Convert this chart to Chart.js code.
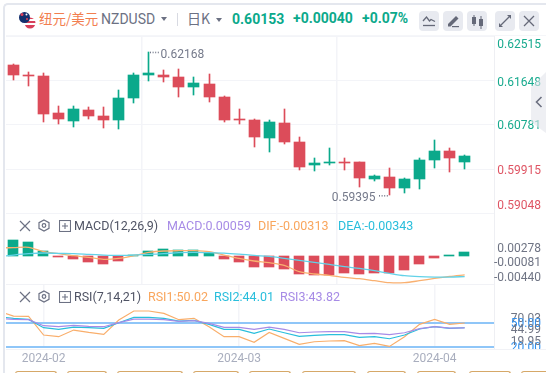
<!DOCTYPE html>
<html><head><meta charset="utf-8">
<script src="https://cdn.jsdelivr.net/npm/chart.js@4"></script>
<style>
html,body{margin:0;padding:0;background:#fff;}
#s{position:relative;width:546px;height:373px;overflow:hidden;background:#fff;font-family:Roboto,"Noto Sans CJK SC",sans-serif;}
#s canvas{position:absolute;left:0;}
.t{position:absolute;white-space:nowrap;line-height:16px;height:16px;}
.b{position:absolute;top:11px;width:20px;height:20px;border-radius:4px;background:#E8EAF0;}
.b svg,.i{position:absolute;}
.tab{position:absolute;top:371px;height:6px;border:1px solid #D6A868;border-bottom:0;border-radius:3px 3px 0 0;box-sizing:border-box;}
</style></head><body><div id="s">
<div style="position:absolute;left:3px;top:3px;width:560px;height:380px;border:2px solid #E4E7EE;border-right:0;border-bottom:0;border-top-left-radius:5px;box-sizing:border-box"></div>
<div style="position:absolute;left:6px;top:35px;width:540px;height:1px;background:#F5F6F9"></div>
<canvas id="c1" width="546" height="178" style="top:36px"></canvas>
<canvas id="c2" width="546" height="71" style="top:214px"></canvas>
<canvas id="c3" width="546" height="88" style="top:285px"></canvas>
<div style="position:absolute;left:6px;top:349px;width:540px;height:1px;background:#F1F2F6"></div>
<div style="position:absolute;left:500px;top:350px;width:46px;height:20px;background:#fff"></div>
<div style="position:absolute;left:531px;top:72px;width:15px;height:61px;background:rgba(226,228,235,.6);clip-path:polygon(0 15px,15px 0,15px 61px,0 50px)"></div>
<svg class="i" style="left:535px;top:96px" width="8" height="12"><path d="M6.5 1 L1.5 6 L6.5 11" fill="none" stroke="#6c7080" stroke-width="1.6"/></svg>

<svg class="i" style="left:18px;top:11px" width="19" height="18">
 <circle cx="12" cy="12" r="5.5" fill="#fff"/>
 <clipPath id="u"><circle cx="12" cy="12" r="5.5"/></clipPath>
 <g clip-path="url(#u)"><rect x="6" y="6" width="12" height="2" fill="#D8405A"/><rect x="6" y="10" width="12" height="2" fill="#D8405A"/><rect x="6" y="14" width="12" height="2" fill="#D8405A"/><rect x="6" y="16" width="12" height="2" fill="#D8405A"/></g>
 <circle cx="6.5" cy="6.5" r="5.5" fill="#14306E"/>
 <circle cx="4" cy="3.5" r="1.5" fill="#E0405A"/><circle cx="9" cy="8" r="1" fill="#E0405A"/><circle cx="8.5" cy="3.5" r="1" fill="#fff"/>
</svg>
<div class="t" style="left:39px;top:10px;font-size:13.5px;color:#F27E4F;font-family:'Noto Sans CJK SC'">纽元/美元</div>
<div class="t" style="left:101px;top:11px;font-size:14px;color:#6C7183">NZDUSD</div>
<svg class="i" style="left:161px;top:17px" width="6" height="4"><path d="M0 0H6L3 4Z" fill="#6C7183"/></svg>
<div style="position:absolute;left:177px;top:13px;width:1px;height:13px;background:#D8DAE2"></div>
<div class="t" style="left:187px;top:10px;font-size:14px;color:#6C7183;font-family:'Noto Sans CJK SC'">日K</div>
<svg class="i" style="left:216px;top:18px" width="6" height="4"><path d="M0 0H6L3 4Z" fill="#6C7183"/></svg>
<div class="t" style="left:232px;top:11px;font-size:14px;font-weight:700;color:#0BA98B">0.60153</div>
<div class="t" style="left:293px;top:10px;font-size:14px;font-weight:700;color:#0BA98B">+0.00040</div>
<div class="t" style="left:362px;top:10px;font-size:14px;font-weight:700;color:#0BA98B">+0.07%</div>
<div class="b" style="left:419px"><svg width="20" height="20" fill="none" stroke="#656978" stroke-width="1.3"><path d="M4 10L7.5 6L10.5 10L12 8.5L16 10.5"/><path d="M4 14.5H16"/></svg></div>
<div class="b" style="left:443px"><svg width="20" height="20"><path d="M5 13L13 5L15.5 7.5L7.5 15.5H5Z" fill="#656978"/><rect x="9" y="15" width="7" height="1.2" fill="#656978"/></svg></div>
<div class="b" style="left:467px"><svg width="20" height="20" fill="#656978"><rect x="5" y="6" width="4" height="7"/><rect x="6.5" y="4" width="1" height="11"/><rect x="12" y="8" width="4" height="7"/><rect x="13.5" y="5" width="1" height="13"/></svg></div>
<div class="b" style="left:495px"><svg width="20" height="20" fill="#656978"><path d="M12 4H16V8ZM8 16H4V12Z"/><path d="M14 6L6 14" stroke="#656978" stroke-width="1.2"/></svg></div>
<div class="b" style="left:519px"><svg width="20" height="20" stroke="#656978" stroke-width="1.3"><path d="M5 5L15 15M15 5L5 15"/></svg></div>

<svg class="i" style="left:19px;top:220px" width="12" height="12" stroke="#6C7183" stroke-width="1.2"><path d="M1 1L11 11M11 1L1 11"/></svg>
<svg class="i" style="left:38px;top:219px" width="12" height="13" fill="none" stroke="#6C7183" stroke-width="1.2"><path d="M6 1L11 3.7V9.3L6 12L1 9.3V3.7Z"/><circle cx="6" cy="6.5" r="1.8"/></svg>
<svg class="i" style="left:59px;top:220px" width="12" height="12" fill="none" stroke="#6C7183" stroke-width="1.1"><rect x=".5" y=".5" width="11" height="11"/><path d="M3 6H9M6 3V9"/></svg>
<div class="t" style="left:74px;top:218px;font-size:12.5px;color:#4F5364">MACD(12,26,9)</div>
<div class="t" style="left:167px;top:218px;font-size:12.5px;color:#A78BE6">MACD:0.00059</div>
<div class="t" style="left:258px;top:218px;font-size:12.5px;color:#F9A65D">DIF:-0.00313</div>
<div class="t" style="left:338px;top:218px;font-size:12.5px;color:#29BEDC">DEA:-0.00343</div>

<svg class="i" style="left:19px;top:291px" width="12" height="12" stroke="#6C7183" stroke-width="1.2"><path d="M1 1L11 11M11 1L1 11"/></svg>
<svg class="i" style="left:38px;top:290px" width="12" height="13" fill="none" stroke="#6C7183" stroke-width="1.2"><path d="M6 1L11 3.7V9.3L6 12L1 9.3V3.7Z"/><circle cx="6" cy="6.5" r="1.8"/></svg>
<svg class="i" style="left:59px;top:291px" width="12" height="12" fill="none" stroke="#6C7183" stroke-width="1.1"><rect x=".5" y=".5" width="11" height="11"/><path d="M3 6H9M6 3V9"/></svg>
<div class="t" style="left:74px;top:289px;font-size:12.5px;color:#4F5364">RSI(7,14,21)</div>
<div class="t" style="left:148px;top:289px;font-size:12.5px;color:#F9A65D">RSI1:50.02</div>
<div class="t" style="left:214px;top:289px;font-size:12.5px;color:#29BEDC">RSI2:44.01</div>
<div class="t" style="left:280px;top:289px;font-size:12.5px;color:#A78BE6">RSI3:43.82</div>

<div class="tab" style="left:15px;width:42px"></div><div class="tab" style="left:67px;width:40px"></div><div class="tab" style="left:117px;width:66px"></div><div class="tab" style="left:193px;width:46px"></div><div class="tab" style="left:249px;width:42px"></div><div class="tab" style="left:302px;width:54px"></div><div class="tab" style="left:367px;width:39px"></div><div class="tab" style="left:417px;width:39px"></div><div class="tab" style="left:469px;width:42px"></div><div class="tab" style="left:521px;width:40px"></div>
</div>
<script>
const opens =[.61953,.61751,.61738,.61013,.60856,.61072,.60954,.60876,.61307,.61757,.61757,.61718,.61522,.61581,.61326,.60895,.60876,.60530,.60817,.60445,.59994,.60033,.60053,.60053,.59720,.59759,.59544,.59720,.60092,.60268,.60053];
const closes=[.61757,.61738,.60993,.60895,.61091,.60954,.60876,.61307,.61757,.61796,.61718,.61522,.61600,.61326,.60876,.60882,.60549,.60836,.60451,.59961,.60033,.60053,.60033,.59746,.59779,.59544,.59720,.60092,.60268,.60131,.60170];
const highs =[.61973,.61816,.61790,.61150,.61150,.61130,.61130,.61463,.61796,.62214,.61855,.61875,.61718,.61777,.61346,.61091,.60895,.60876,.61091,.60549,.60131,.60327,.60125,.60053,.59798,.59935,.59739,.60131,.60484,.60327,.60190];
const lows  =[.61659,.61542,.60836,.60797,.60745,.60895,.60719,.60699,.61209,.61640,.61620,.61326,.61365,.61228,.60836,.60797,.60353,.60255,.60405,.59896,.59877,.59988,.59896,.59563,.59681,.59406,.59452,.59524,.59935,.59857,.59916];
const macdHist=[.00257,.00225,.00077,-.00021,-.00054,-.00103,-.00136,-.00087,.00011,.00077,.0011,.00093,.00087,.00049,-.00054,-.00103,-.00185,-.00185,-.00218,-.003,-.00316,-.00316,-.00284,-.003,-.00284,-.00284,-.00234,-.00136,-.00033,.00008,.00059];
// line series start one session before the first visible candle
const dif=[.00131,.00131,.00137,.00066,.00033,0,-.00027,-.0006,-.00044,0,.00055,.00077,.00082,.00082,.00066,.00011,-.00044,-.00087,-.00115,-.00158,-.00262,-.003,-.00322,-.00355,-.00377,-.0041,-.00443,-.00443,-.0041,-.00372,-.00339,-.00313];
const dea=[-.00016,.00011,.00033,.00044,.00038,.00033,.00022,.00011,.00005,.00011,.00022,.00033,.00049,.00055,.00049,.00044,.00027,.00005,-.00011,-.00044,-.00077,-.00109,-.00142,-.0018,-.00208,-.00246,-.0029,-.00328,-.00344,-.0035,-.0035,-.00343];
const rsi1=[65.2,58.8,58.4,34.8,32.7,41.1,38.1,35.6,53.8,65.2,65.2,62.2,54.2,55.9,45.3,32.7,32.7,25.5,38.1,30.6,23.0,26.3,27.2,27.6,21.3,24.2,20.4,32.7,48.3,54.6,48.3,50.02];
const rsi2=[58.0,55.9,54.6,44.1,41.9,44.9,44.1,43.2,50.4,57.1,57.1,55.9,52.5,53.3,48.3,41.9,41.9,36.9,42.4,37.7,33.1,34.3,35.2,35.2,31.8,32.7,30.1,34.8,42.4,45.3,43.2,44.01];
const rsi3=[55.9,54.6,54.2,46.6,45.3,47.0,45.7,45.3,50.4,55.0,55.0,54.2,52.1,52.9,49.5,44.5,44.5,41.9,44.9,41.9,37.7,38.6,39.0,39.0,36.5,36.9,35.2,37.7,42.8,45.3,43.6,43.82];
const priceTicks=[.62515,.61648,.60781,.59915,.59048];
const macdTicks=[.00278,-.00081,-.0044];
const rsiTicks=[70.03,50,44.99,20,19.95];
const xTickIndex=[2,15,28];
const xTickLabels=['2024-02','2024-03','2024-04'];
const maxMark={index:9,value:.62214,text:'0.62168'};
const minMark={index:25,value:.59406,text:'0.59395'};

const GREEN='#0BA98B',RED='#DC4C5A',GRID='#F3F4F8';
const font={family:'Roboto',size:12};
const idx=a=>a.map((_,i)=>i);
const noPad=s=>{s.paddingLeft=s.paddingRight=s.paddingTop=s.paddingBottom=0;};
function xScale(show,border){return {type:'linear',min:-.5,max:31.95,offset:false,stacked:true,
  afterBuildTicks:s=>{s.ticks=xTickIndex.map(v=>({value:v}));},
  afterFit:s=>{s.height=show?25.5:0;noPad(s);},
  grid:{color:GRID,lineWidth:1.5,drawTicks:false},
  border:{display:!!border,color:'#F1F2F6'},
  ticks:{display:show,autoSkip:false,maxRotation:0,padding:4,color:'#A9AEBE',font:font,
    callback:v=>xTickLabels[xTickIndex.indexOf(v)]}};}
function yScale(min,max,ticks,digits,color,grid,lw){return {position:'right',min,max,
  afterBuildTicks:s=>{s.ticks=ticks.map(v=>({value:v}));},
  afterFit:s=>{s.width=52;noPad(s);},
  grid:{color:grid,lineWidth:lw||1,drawTicks:false},
  border:{display:true,color:'#EEEFF3'},
  ticks:{autoSkip:false,padding:3,font:font,color:color,callback:v=>v.toFixed(digits)}};}

const axisLabels={id:'axisLabels',beforeDraw(c,a,o){
  const s=c.scales.y,items=s.getLabelItems(c.chartArea);
  items.forEach((it,i)=>{const p=it.options||it;
    p.textAlign='right';p.translation[0]=541;p.translation[1]+=o.shift[i]||0;});
}};
const snap={id:'snap',afterDatasetsUpdate(c,a,o){
  c.data.datasets.forEach((d,k)=>{
    if(d.type==='line')return;
    c.getDatasetMeta(k).data.forEach(e=>{
      e.x=Math.floor(e.x)+(d.barThickness%2?.5:0);
      let y=Math.round(e.y),b=Math.round(e.base);
      if(y===b)b=y+1;
      e.y=y;e.base=b;
    });
  });
}};
const marks={id:'marks',afterDatasetsDraw(c){
  const g=c.ctx,x=c.scales.x,y=c.scales.y;
  g.save();g.font='12px Roboto';g.fillStyle='#757A8B';g.textBaseline='middle';
  let px=Math.floor(x.getPixelForValue(maxMark.index))+.5,py=y.getPixelForValue(maxMark.value);
  g.textAlign='left';g.fillText(maxMark.text,px+12,py+3);
  for(let k=0;k<4;k++)g.fillRect(px+1.5+k*2.6,py,1,1.6);
  px=Math.floor(x.getPixelForValue(minMark.index))+.5;py=y.getPixelForValue(minMark.value);
  g.textAlign='right';g.fillText(minMark.text,px-14,py+2.5);
  for(let k=0;k<4;k++)g.fillRect(px-10.5+k*2.6,py,1,1.6);
  g.restore();
}};
function base(pad,shift,extra){return Object.assign({responsive:false,animation:false,events:[],
  devicePixelRatio:1,
  layout:{autoPadding:false,padding:Object.assign({left:6,top:0,right:0,bottom:0},pad)},
  plugins:{legend:{display:false},tooltip:{enabled:false},axisLabels:{shift}}},extra);}
const lineDs=(a,color,lw,tension)=>({type:'line',data:a.map((v,i)=>({x:i-1,y:v})),borderColor:color,borderWidth:lw,pointRadius:0,tension:tension||0,order:0});

new Chart('c1',{type:'bar',plugins:[axisLabels,snap,marks],
 data:{datasets:[
  {data:idx(opens).map(i=>({x:i,y:[lows[i],highs[i]]})),barThickness:1,
   backgroundColor:opens.map((o,i)=>closes[i]>=o?GREEN:RED),order:2},
  {data:idx(opens).map(i=>({x:i,y:[Math.min(opens[i],closes[i]),Math.max(opens[i],closes[i])]})),barThickness:11,
   backgroundColor:opens.map((o,i)=>closes[i]>=o?GREEN:RED),order:1}
 ]},
 options:base({},[8.5,2,1.5,2,-7.5],{scales:{x:xScale(false),
  y:yScale(.59034,.62521,priceTicks,5,ctx=>ctx.tick.value>.6?'#18AA8E':'#DF5564',GRID)}})});

new Chart('c2',{type:'bar',plugins:[axisLabels,snap],
 data:{datasets:[
  {data:macdHist.map((v,i)=>({x:i,y:v})),barThickness:10,
   backgroundColor:macdHist.map(v=>v>=0?GREEN:RED),order:3},
  lineDs(dea,'#62D2E8',1.3,.3),
  lineDs(dif,'#F9B070',1.3,.3)
 ]},
 options:base({bottom:1},[9.8,2.5,-4.5],{scales:{x:xScale(false,true),
  y:yScale(-.00464,.00684,macdTicks,5,'#6F7484','transparent')}})});

new Chart('c3',{type:'line',plugins:[axisLabels],
 data:{datasets:[lineDs(rsi3,'#A78BE6',1.2),lineDs(rsi2,'#29BEDC',1.2),lineDs(rsi1,'#F9AE6B',1.2)]},
 options:base({},[12,1,3.5,1,-5.2],{scales:{x:xScale(true),
  y:yScale(19,98.1,rsiTicks,2,ctx=>(ctx.tick.value===50||ctx.tick.value===20)?'#2E8FEF':'#6F7484',
    ctx=>(ctx.tick&&(ctx.tick.value===50||ctx.tick.value===20))?'#8FC6F8':'transparent',2)}})});
</script></body></html>
